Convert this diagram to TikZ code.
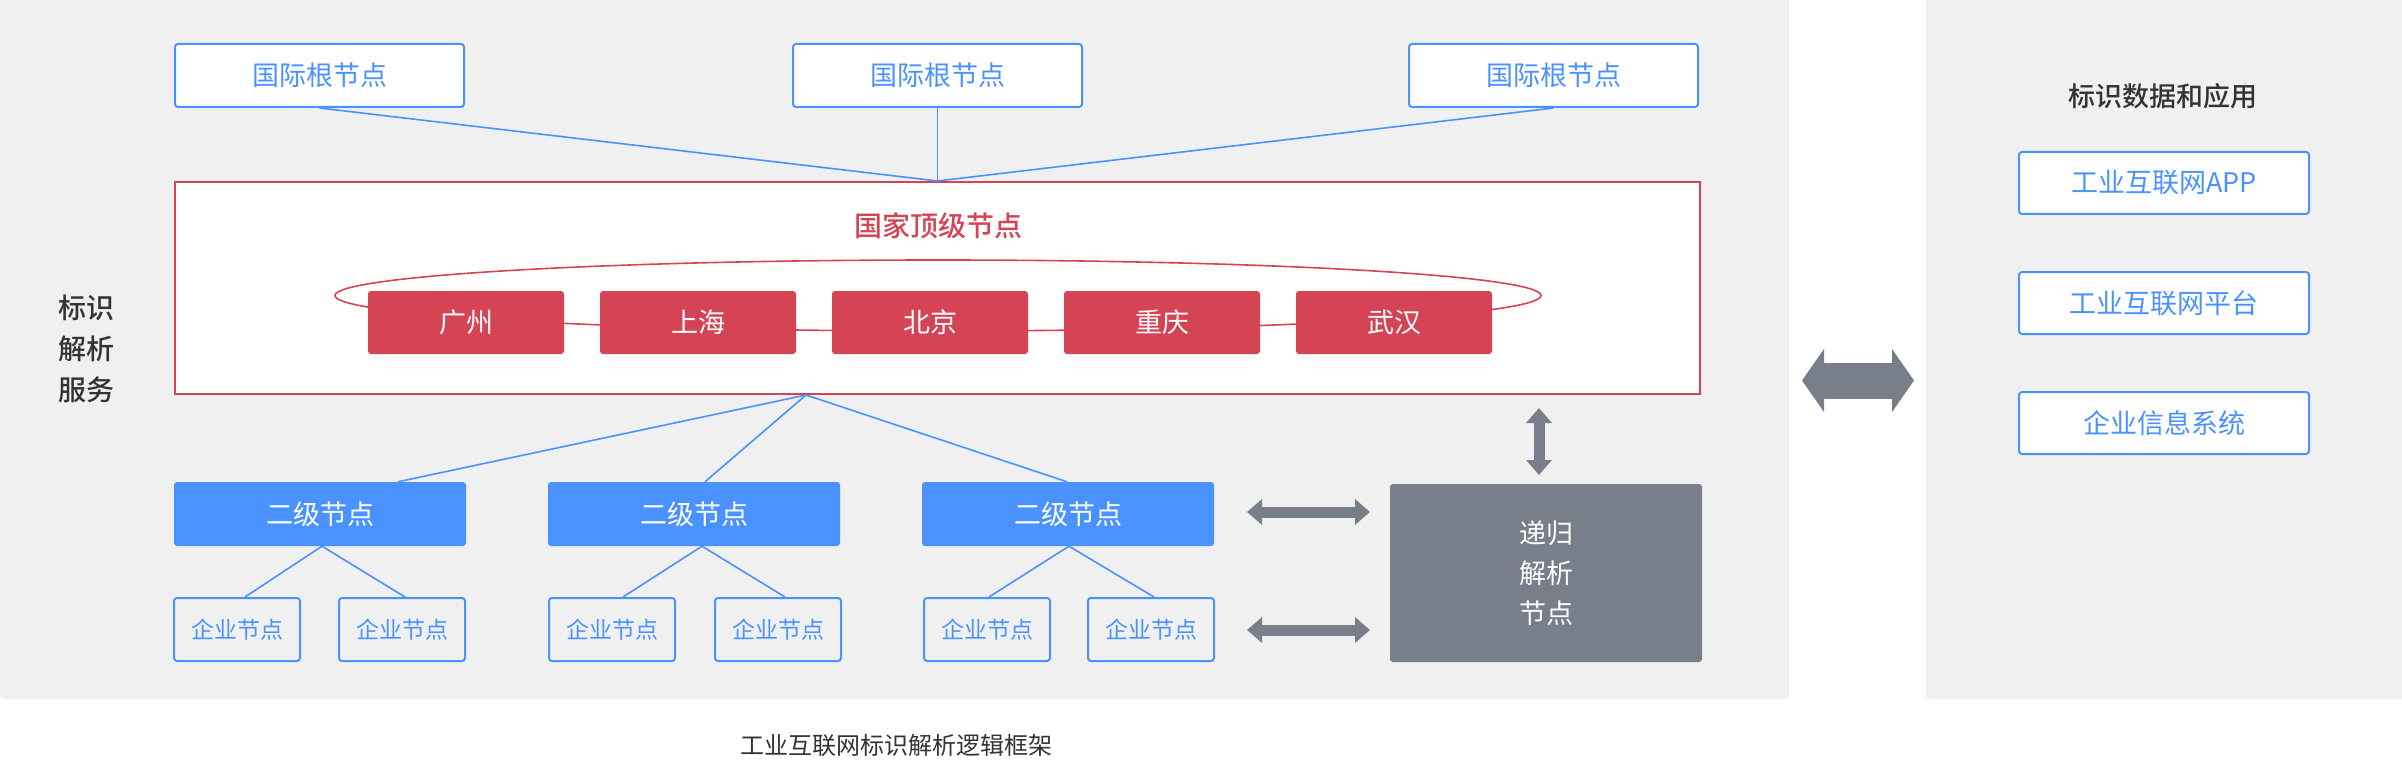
\documentclass[tikz,border=0pt]{standalone}
\usepackage{fontspec}
\setmainfont{Noto Sans CJK SC}
\newfontfamily\cjkmed{Noto Sans CJK SC Medium}
\usetikzlibrary{arrows.meta,calc}
\definecolor{bgc}{HTML}{F0F0F0}
\definecolor{bl}{HTML}{4A92FF}
\definecolor{rd}{HTML}{D54455}
\definecolor{gy}{HTML}{787E8A}
\definecolor{tx}{HTML}{333333}
\begin{document}
\begin{tikzpicture}[x=1pt,y=-1pt,
  panel/.style={fill=bgc, rounded corners=4pt},
  outbox/.style={draw=bl, line width=2pt, fill=white, rounded corners=3pt, text=bl,
    font=\fontsize{27}{32}\selectfont, inner sep=0pt, minimum height=63pt},
  rootbox/.style={outbox, minimum width=289pt},
  appbox/.style={outbox, minimum width=290pt, minimum height=62pt},
  entbox/.style={draw=bl, line width=2pt, rounded corners=3pt, text=bl,
    font=\fontsize{23}{28}\selectfont, inner sep=0pt, minimum width=126pt, minimum height=63pt},
  secbox/.style={fill=bl, rounded corners=3pt, text=white,
    font=\fontsize{27}{32}\selectfont, inner sep=0pt, minimum width=292pt, minimum height=64pt},
  citybox/.style={fill=rd, rounded corners=3pt, text=white,
    font=\fontsize{27}{32}\selectfont, inner sep=0pt, minimum width=196pt, minimum height=63pt},
  link/.style={draw=bl, line width=1.6pt},
  blockarrow/.style={draw=gy, line width=#1, line cap=butt},
  smallarrow/.style={blockarrow=11pt, {Triangle[width=25pt,length=15pt]}-{Triangle[width=25pt,length=15pt]}},
]
\useasboundingbox (0,0) rectangle (2402,762);
\fill[white] (0,0) rectangle (2402,762);
% panels
\fill[panel] (0,-5) rectangle (1789,699);
\fill[panel] (1926,-5) rectangle (2407,699);

% left label
\node[text=tx, font=\cjkmed\fontsize{28}{41}\selectfont, align=center, inner sep=0pt] (lbl) at (86,349) {标识\\解析\\服务};

% international roots
\node[rootbox] (r1) at (319.5,75.5) {国际根节点};
\node[rootbox] (r2) at (937.5,75.5) {国际根节点};
\node[rootbox] (r3) at (1553.5,75.5) {国际根节点};

% national top-level box
\node[draw=rd, line width=2pt, fill=white, minimum width=1525pt, minimum height=212pt, inner sep=0pt] (nat) at (937.5,288) {};
\node[text=rd, font=\cjkmed\fontsize{28}{34}\selectfont, inner sep=0pt] (natt) at (938,226) {国家顶级节点};
\draw[rd, line width=1.6pt] (938,295.5) ellipse [x radius=603pt, y radius=35.5pt];
\node[citybox] (c1) at (466,322.5) {广州};
\node[citybox] (c2) at (698,322.5) {上海};
\node[citybox] (c3) at (930,322.5) {北京};
\node[citybox] (c4) at (1162,322.5) {重庆};
\node[citybox] (c5) at (1394,322.5) {武汉};

\draw[link] (r1.south) -- (nat.north);
\draw[link] (r2.south) -- (nat.north);
\draw[link] (r3.south) -- (nat.north);

% second level
\node[secbox] (s1) at (320,514) {二级节点};
\node[secbox] (s2) at (694,514) {二级节点};
\node[secbox] (s3) at (1068,514) {二级节点};
\coordinate (nb) at (806,395);
\draw[link] (nb) -- ($(s1.north)+(78,0)$);
\draw[link] (nb) -- ($(s2.north)+(11,0)$);
\draw[link] (nb) -- ($(s3.north)+(-1,0)$);

% enterprise nodes
\node[entbox] (e1) at (237,629.5) {企业节点};
\node[entbox] (e2) at (402,629.5) {企业节点};
\node[entbox] (e3) at (612,629.5) {企业节点};
\node[entbox] (e4) at (778,629.5) {企业节点};
\node[entbox] (e5) at (987,629.5) {企业节点};
\node[entbox] (e6) at (1151,629.5) {企业节点};
\draw[link] ($(s1.south)+(2,0)$) -- ($(e1.north)+(8,0)$);
\draw[link] ($(s1.south)+(2,0)$) -- ($(e2.north)+(3,0)$);
\draw[link] ($(s2.south)+(8,0)$) -- ($(e3.north)+(11,0)$);
\draw[link] ($(s2.south)+(8,0)$) -- ($(e4.north)+(7,0)$);
\draw[link] ($(s3.south)+(1,0)$) -- ($(e5.north)+(2,0)$);
\draw[link] ($(s3.south)+(1,0)$) -- ($(e6.north)+(3,0)$);

% recursive resolver
\node[fill=gy, rounded corners=3pt, minimum width=312pt, minimum height=178pt, inner sep=0pt,
  text=white, font=\fontsize{27}{40}\selectfont, align=center] (rec) at (1546,573) {递归\\解析\\节点};

\coordinate (va) at (1539,408);
\coordinate (vb) at (1539,475);
\draw[smallarrow] (va) -- (vb);
\coordinate (ha1) at (1247,512);
\coordinate (hb1) at (1370,512);
\draw[smallarrow] (ha1) -- (hb1);
\coordinate (ha2) at (1247,630);
\coordinate (hb2) at (1370,630);
\draw[smallarrow] (ha2) -- (hb2);

% big arrow
\coordinate (ba) at (1802,380.5);
\coordinate (bb) at (1914,380.5);
\draw[blockarrow=36pt, {Triangle[width=62pt,length=22pt]}-{Triangle[width=62pt,length=22pt]}] (ba) -- (bb);

% right panel
\node[text=tx, font=\cjkmed\fontsize{27}{32}\selectfont, inner sep=0pt] (apt) at (2163,96) {标识数据和应用};
\node[appbox] (a1) at (2164,183) {工业互联网APP};
\node[appbox] (a2) at (2164,303) {工业互联网平台};
\node[appbox] (a3) at (2164,423) {企业信息系统};

% caption
\node[text=tx, font=\fontsize{24}{28}\selectfont, inner sep=0pt] (cap) at (896,745) {工业互联网标识解析逻辑框架};
\end{tikzpicture}
\end{document}
